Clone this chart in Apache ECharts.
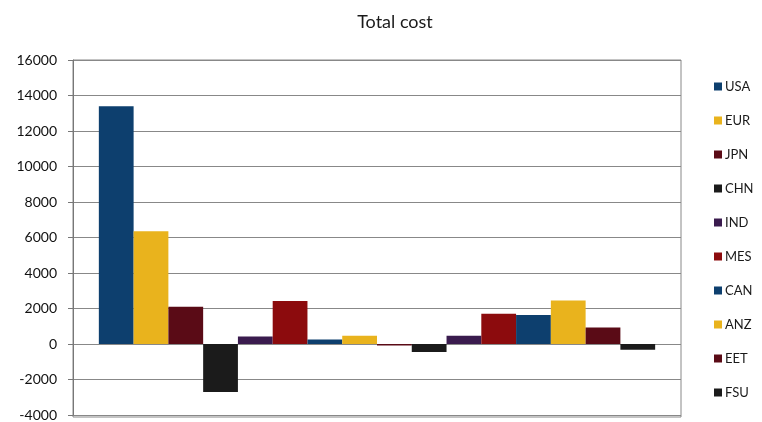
<!DOCTYPE html>
<html>
<head>
<meta charset="utf-8">
<script src="https://cdn.jsdelivr.net/npm/echarts@6/dist/echarts.min.js"></script>
<style>
  html, body { margin: 0; padding: 0; background: #fff; }
  #main { width: 762px; height: 422px; }
</style>
</head>
<body>
<div id="main"></div>
<script>
// one category, 16 regional series (legend only shows first ten)
var categories = ['Total cost'];
var seriesNames = ['USA', 'EUR', 'JPN', 'CHN', 'IND', 'MES', 'CAN', 'ANZ', 'EET', 'FSU',
    'R11', 'R12', 'R13', 'R14', 'R15', 'R16'];
var legendNames = ['USA', 'EUR', 'JPN', 'CHN', 'IND', 'MES', 'CAN', 'ANZ', 'EET', 'FSU'];
var seriesValues = [13400, 6350, 2100, -2700, 420, 2420, 260, 460, -80, -450,
    460, 1700, 1630, 2450, 930, -320];
var seriesColors = ['#0d3f6e', '#e9b31d', '#5a0b16', '#1b1b1b', '#3a1b4e', '#8c0b0d',
    '#0d3f6e', '#e9b31d', '#5a0b16', '#1b1b1b',
    '#3a1b4e', '#8c0b0d', '#0d3f6e', '#e9b31d', '#5a0b16', '#1b1b1b'];
var yTicks = [-4000, 16000, 2000];

var chart = echarts.init(document.getElementById('main'));

var series = [];
for (var i = 0; i < seriesNames.length; i++) {
    series.push({
        name: seriesNames[i],
        type: 'bar',
        data: [seriesValues[i]],
        itemStyle: {color: seriesColors[i]},
        barGap: '0%',
        barCategoryGap: '8.5%'
    });
}

chart.setOption({
    animation: false,
    color: seriesColors,
    textStyle: {fontFamily: 'Lato'},
    title: {
        text: 'Total cost',
        left: 390,
        textAlign: 'center',
        top: 8,
        textStyle: {fontSize: 18, fontWeight: 'normal', color: '#1a1a1a', fontFamily: 'Lato'}
    },
    legend: {
        data: legendNames,
        orient: 'vertical',
        left: 709,
        top: 75,
        itemWidth: 8,
        itemHeight: 8,
        itemGap: 21,
        icon: 'rect',
        textStyle: {fontSize: 13, color: '#1a1a1a', padding: [0, 0, 0, -2]}
    },
    grid: {left: 73, right: 81, top: 60, bottom: 5, containLabel: false},
    xAxis: {
        type: 'category',
        data: categories,
        axisLine: {show: false},
        axisTick: {show: false},
        axisLabel: {show: false}
    },
    yAxis: {
        type: 'value',
        min: yTicks[0],
        max: yTicks[1],
        interval: yTicks[2],
        axisLine: {show: true, lineStyle: {color: '#777'}},
        axisTick: {show: true, length: 5, inside: false, lineStyle: {color: '#777'}},
        axisLabel: {
            fontSize: 14, color: '#111', margin: 16,
            formatter: function (v) { return String(v); }
        },
        splitLine: {lineStyle: {color: '#888'}}
    },
    series: series
});

// plot area frame
chart.setOption({
    graphic: [{
        type: 'rect',
        shape: {x: 73, y: 60, width: 608, height: 357},
        style: {fill: 'none', stroke: '#888', lineWidth: 1},
        silent: true
    }]
});
</script>
</body>
</html>
